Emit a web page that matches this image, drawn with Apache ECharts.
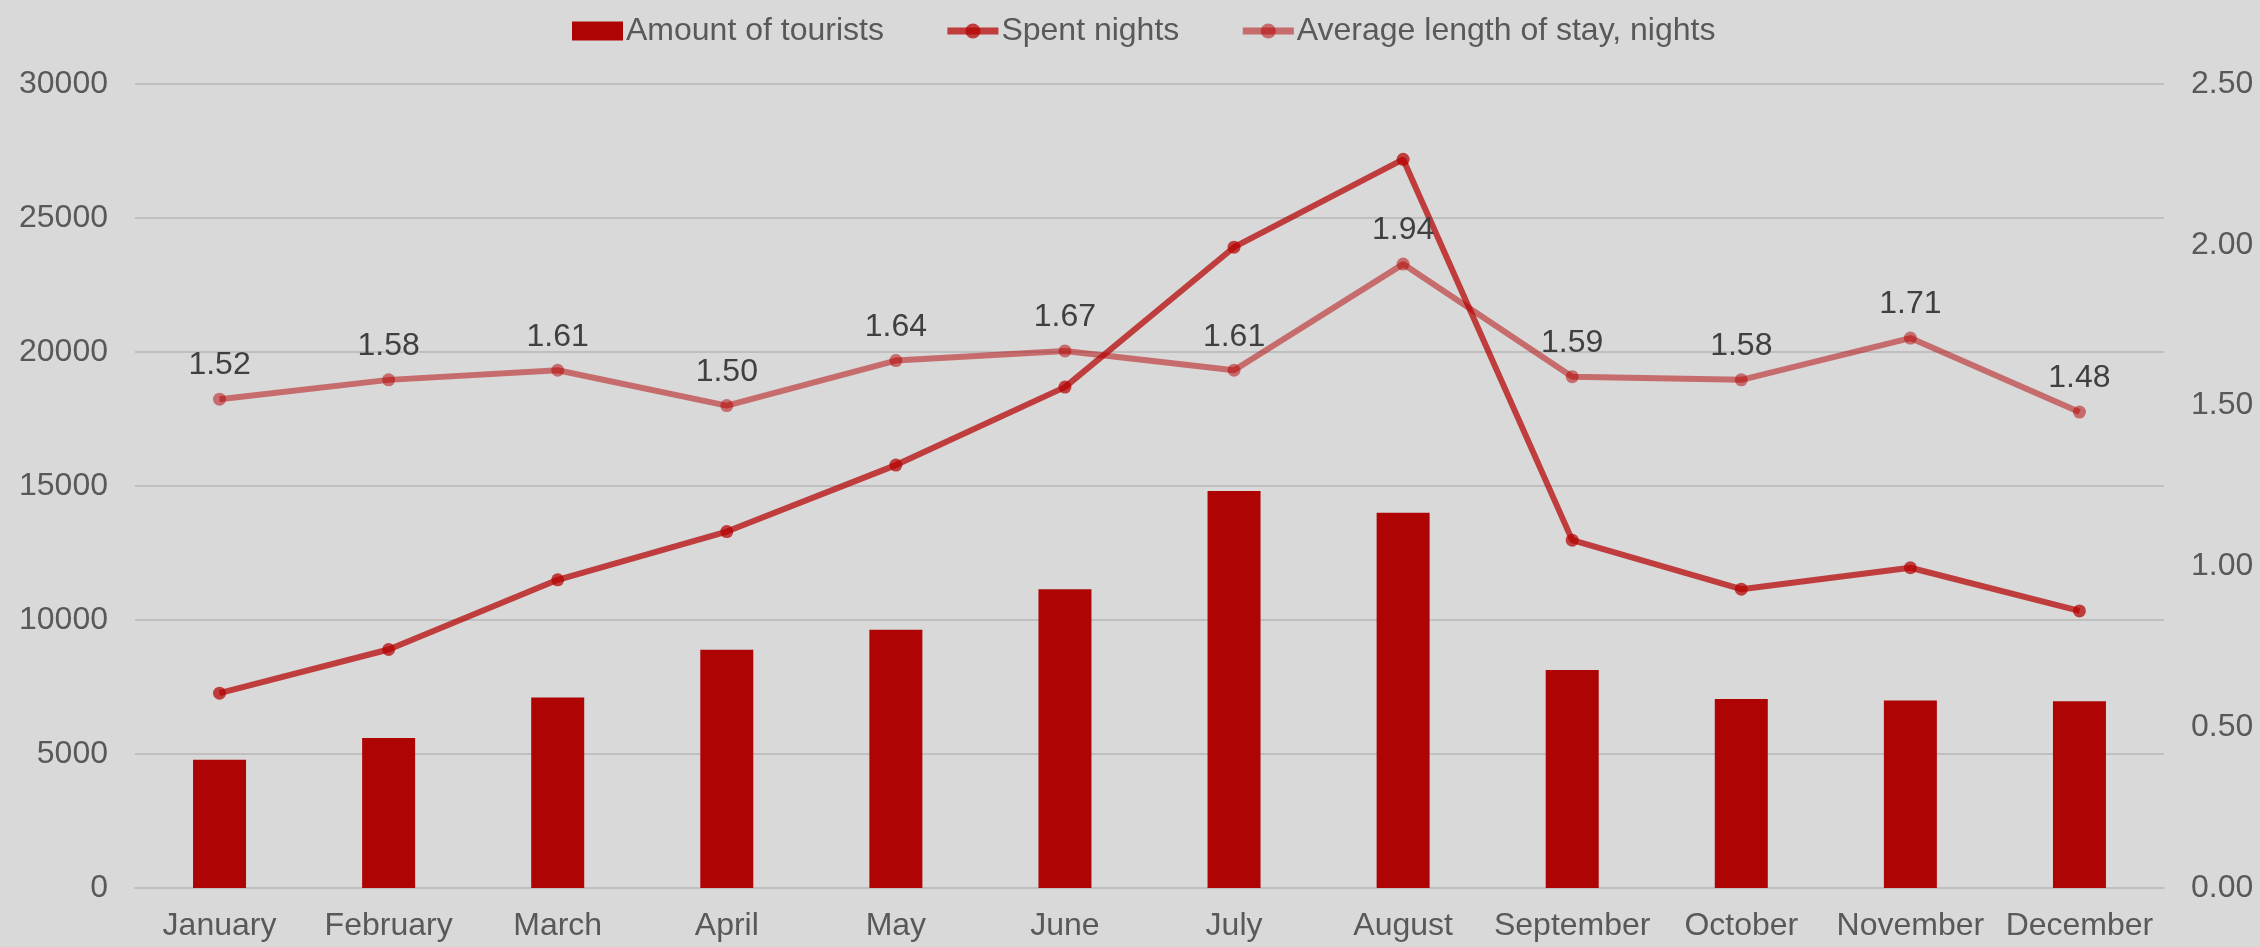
<!DOCTYPE html>
<html lang="en">
<head>
    <meta charset="UTF-8">
    <title>tourists</title>
    <script src="https://cdn.jsdelivr.net/npm/echarts@6/dist/echarts.min.js"></script>
    <style>
        html, body { margin: 0; padding: 0; background: #D9D9D9; }
        #chart { position: absolute; left: 0; top: 0; width: 2260px; height: 947px; }
    </style>
</head>
<body>
<div id="chart"></div>
<script>
    // months
    var months = ['January', 'February', 'March', 'April', 'May', 'June',
        'July', 'August', 'September', 'October', 'November', 'December'];
    // amount of tourists (bars, left axis)
    var tourists = [4790, 5600, 7110, 8890, 9640, 11150, 14810, 14000, 8130, 7050, 7000, 6970];
    // spent nights (line, left axis)
    var spentNights = [7270, 8900, 11500, 13300, 15780, 18690, 23910, 27190, 12980, 11150, 11950, 10340];
    // average length of stay (line, right axis)
    var avgStay = [1.52, 1.58, 1.61, 1.50, 1.64, 1.67, 1.61, 1.94, 1.59, 1.58, 1.71, 1.48];

    var font = "'Liberation Sans', Arial, sans-serif";

    var myChart = echarts.init(document.getElementById('chart'));
    var option = {
        backgroundColor: '#D9D9D9',
        animation: false,
        textStyle: { fontFamily: font },
        legend: {
            left: 567,
            top: 10,
            itemGap: 60,
            itemWidth: 51,
            itemHeight: 19,
            textStyle: { fontSize: 32, color: '#595959', fontFamily: font, padding: [0, 0, 0, -2] },
            lineStyle: { width: 7 },
            data: [
                { name: 'Amount of tourists', icon: 'rect' },
                { name: 'Spent nights' },
                { name: 'Average length of stay, nights' }
            ]
        },
        grid: { left: 135, right: 96, top: 84, bottom: 59 },
        xAxis: {
            type: 'category',
            data: months,
            axisLine: { lineStyle: { color: '#BFBFBF', width: 2 } },
            axisTick: { show: false },
            axisLabel: { fontSize: 32, color: '#595959', margin: 22, interval: 0 }
        },
        yAxis: [
            {
                type: 'value',
                min: 0, max: 30000, interval: 5000,
                axisLine: { show: false },
                axisTick: { show: false },
                splitLine: { lineStyle: { color: '#BFBFBF', width: 2 } },
                axisLabel: {
                    fontSize: 32, color: '#595959', margin: 27,
                    formatter: function (v) { return String(v); }
                }
            },
            {
                type: 'value',
                min: 0, max: 2.5, interval: 0.5,
                axisLine: { show: false },
                axisTick: { show: false },
                splitLine: { show: false },
                axisLabel: {
                    fontSize: 32, color: '#595959', margin: 27,
                    formatter: function (v) { return v.toFixed(2); }
                }
            }
        ],
        series: [
            {
                name: 'Amount of tourists',
                type: 'bar',
                barWidth: 53,
                itemStyle: { color: '#AE0404' },
                data: tourists
            },
            {
                name: 'Spent nights',
                type: 'line',
                symbol: 'circle',
                symbolSize: 13,
                lineStyle: { width: 6, color: 'rgba(180,0,0,0.72)' },
                itemStyle: { color: 'rgba(180,0,0,0.72)' },
                data: spentNights
            },
            {
                name: 'Average length of stay, nights',
                type: 'line',
                yAxisIndex: 1,
                symbol: 'circle',
                symbolSize: 13,
                lineStyle: { width: 6, color: 'rgba(180,0,0,0.5)' },
                itemStyle: { color: 'rgba(180,0,0,0.5)' },
                label: {
                    show: true,
                    position: 'top',
                    distance: 11,
                    fontSize: 32,
                    color: '#404040',
                    formatter: function (p) { return p.value.toFixed(2); }
                },
                data: avgStay
            }
        ]
    };
    myChart.setOption(option);
</script>
</body>
</html>
